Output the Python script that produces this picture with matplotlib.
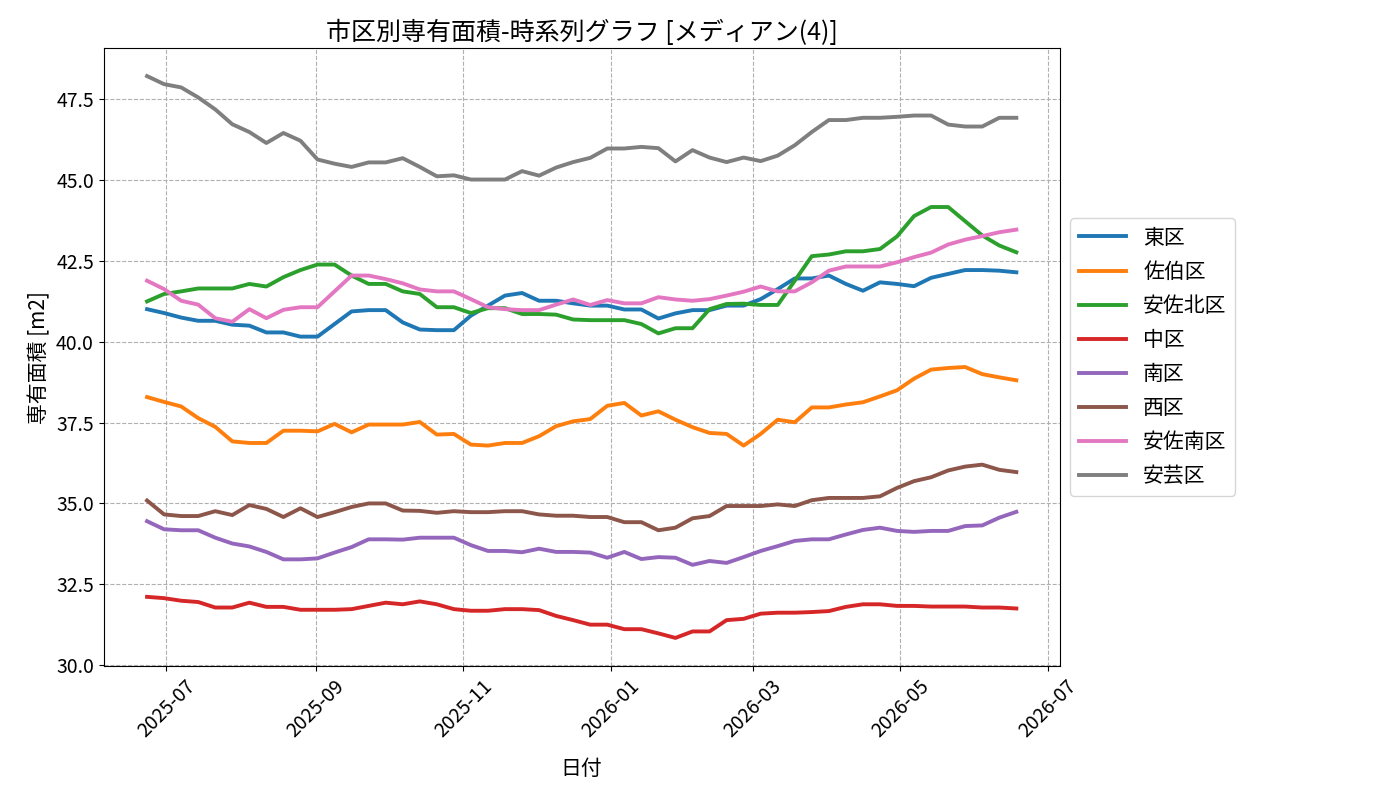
import matplotlib.pyplot as plt
import matplotlib.dates as mdates
import pandas as pd

plt.rcParams['font.family'] = ['Noto Sans CJK JP', 'DejaVu Sans']

# 週次の日付 (52点)
dates = pd.date_range('2025-06-23', '2026-06-18', periods=52)

higashi = [41.01, 40.89, 40.75, 40.65, 40.65, 40.53, 40.50, 40.29, 40.29, 40.16,
           40.16, 40.55, 40.94, 40.98, 40.98, 40.60, 40.38, 40.36, 40.36, 40.81,
           41.12, 41.43, 41.51, 41.27, 41.27, 41.19, 41.12, 41.12, 41.00, 41.00,
           40.72, 40.88, 40.98, 40.98, 41.12, 41.12, 41.32, 41.63, 41.96, 41.96,
           42.05, 41.79, 41.58, 41.84, 41.79, 41.72, 41.98, 42.10, 42.22, 42.22,
           42.20, 42.15]
saeki = [38.29, 38.14, 38.00, 37.64, 37.37, 36.92, 36.87, 36.87, 37.25, 37.25,
         37.23, 37.46, 37.20, 37.44, 37.44, 37.44, 37.52, 37.13, 37.15, 36.82,
         36.79, 36.87, 36.87, 37.08, 37.39, 37.54, 37.61, 38.02, 38.11, 37.72,
         37.85, 37.59, 37.36, 37.18, 37.15, 36.79, 37.15, 37.59, 37.51, 37.97,
         37.97, 38.06, 38.13, 38.31, 38.50, 38.86, 39.14, 39.19, 39.22, 39.00,
         38.90, 38.81]
asakita = [41.25, 41.48, 41.56, 41.65, 41.65, 41.65, 41.79, 41.71, 42.00, 42.22,
           42.39, 42.39, 42.05, 41.79, 41.79, 41.56, 41.48, 41.07, 41.07, 40.89,
           41.04, 41.04, 40.86, 40.86, 40.84, 40.69, 40.67, 40.67, 40.67, 40.55,
           40.26, 40.42, 40.42, 41.01, 41.17, 41.18, 41.14, 41.14, 41.89, 42.65,
           42.70, 42.80, 42.80, 42.87, 43.26, 43.89, 44.17, 44.17, 43.73, 43.29,
           42.98, 42.77]
naka = [32.11, 32.07, 31.99, 31.95, 31.78, 31.78, 31.93, 31.80, 31.80, 31.71,
        31.71, 31.71, 31.73, 31.83, 31.93, 31.88, 31.97, 31.88, 31.73, 31.68,
        31.68, 31.73, 31.73, 31.70, 31.52, 31.39, 31.25, 31.25, 31.11, 31.11,
        30.98, 30.84, 31.04, 31.04, 31.39, 31.43, 31.59, 31.62, 31.62, 31.64,
        31.67, 31.80, 31.88, 31.88, 31.83, 31.83, 31.81, 31.81, 31.81, 31.78,
        31.78, 31.75]
minami = [34.45, 34.20, 34.17, 34.17, 33.94, 33.76, 33.67, 33.50, 33.27, 33.27,
          33.30, 33.48, 33.65, 33.89, 33.89, 33.88, 33.94, 33.94, 33.94, 33.71,
          33.53, 33.53, 33.49, 33.60, 33.50, 33.50, 33.48, 33.32, 33.50, 33.28,
          33.34, 33.32, 33.10, 33.22, 33.16, 33.34, 33.53, 33.68, 33.84, 33.89,
          33.89, 34.04, 34.18, 34.25, 34.15, 34.12, 34.15, 34.15, 34.30, 34.32,
          34.56, 34.74]
nishi = [35.09, 34.66, 34.61, 34.61, 34.76, 34.64, 34.95, 34.83, 34.58, 34.85,
         34.58, 34.73, 34.89, 35.00, 35.00, 34.78, 34.77, 34.71, 34.76, 34.73,
         34.73, 34.76, 34.76, 34.66, 34.62, 34.62, 34.58, 34.58, 34.42, 34.42,
         34.17, 34.25, 34.54, 34.61, 34.92, 34.92, 34.92, 34.97, 34.92, 35.10,
         35.17, 35.17, 35.17, 35.22, 35.48, 35.69, 35.81, 36.02, 36.14, 36.20,
         36.04, 35.97]
asaminami = [41.89, 41.63, 41.27, 41.15, 40.73, 40.62, 41.01, 40.73, 40.99, 41.07,
             41.07, 41.56, 42.05, 42.05, 41.94, 41.81, 41.62, 41.56, 41.56, 41.32,
             41.07, 41.01, 40.98, 40.98, 41.15, 41.31, 41.14, 41.29, 41.19, 41.19,
             41.38, 41.31, 41.27, 41.32, 41.43, 41.55, 41.71, 41.56, 41.56, 41.84,
             42.20, 42.33, 42.33, 42.33, 42.46, 42.62, 42.76, 43.01, 43.16, 43.27,
             43.39, 43.47]
aki = [48.22, 47.97, 47.87, 47.56, 47.19, 46.73, 46.49, 46.15, 46.46, 46.22,
       45.64, 45.51, 45.41, 45.55, 45.55, 45.68, 45.41, 45.12, 45.15, 45.02,
       45.02, 45.02, 45.28, 45.14, 45.39, 45.56, 45.69, 45.98, 45.98, 46.03,
       45.99, 45.58, 45.93, 45.70, 45.56, 45.70, 45.59, 45.76, 46.08, 46.49,
       46.86, 46.86, 46.93, 46.93, 46.96, 47.00, 47.00, 46.72, 46.66, 46.66,
       46.93, 46.93]

wards = ['東区', '佐伯区', '安佐北区', '中区', '南区', '西区', '安佐南区', '安芸区']
series = [higashi, saeki, asakita, naka, minami, nishi, asaminami, aki]

fig, ax = plt.subplots(figsize=(14, 8), dpi=100)
fig.subplots_adjust(left=0.074, right=0.757, top=0.94, bottom=0.1675)

for name, vals in zip(wards, series):
    ax.plot(dates, vals, linewidth=2.8, label=name)

ax.xaxis.set_major_locator(mdates.MonthLocator(bymonth=[1, 3, 5, 7, 9, 11]))
ax.xaxis.set_major_formatter(mdates.DateFormatter('%Y-%m'))
plt.setp(ax.get_xticklabels(), rotation=45)
ax.tick_params(labelsize=14)

ax.set_title('市区別専有面積-時系列グラフ [メディアン(4)]', fontsize=18)
ax.set_xlabel('日付', fontsize=15, labelpad=12)
ax.set_ylabel('専有面積 [m2]', fontsize=15)
ax.grid(True, linestyle='--', color='#b0b0b0')
ax.legend(loc='center left', bbox_to_anchor=(1.0, 0.5), fontsize=15,
          handlelength=2.3, labelspacing=0.58)

plt.savefig('out.png')
